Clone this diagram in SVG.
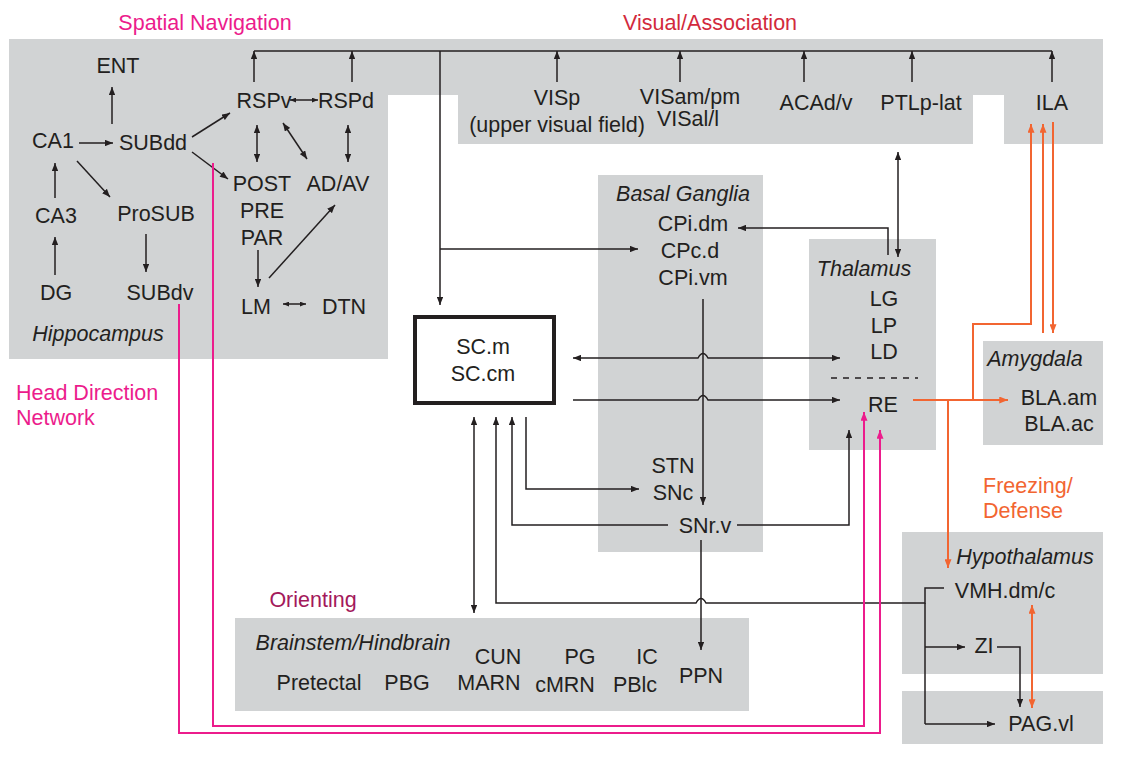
<svg xmlns="http://www.w3.org/2000/svg" width="1124" height="760" viewBox="0 0 1124 760">
<defs>
<style>
.t{font-family:"Liberation Sans",Arial,Helvetica,sans-serif;font-size:21.5px;fill:#231f20;text-anchor:middle}
.i{font-style:italic}
.s{text-anchor:start}
.g{fill:#d1d3d4}
.k{fill:none;stroke:#231f20;stroke-width:1.5}
.p{fill:none;stroke:#ec1c8c;stroke-width:2}
.o{fill:none;stroke:#f26531;stroke-width:2}
.km{marker-end:url(#ak)}
.kb{marker-start:url(#ak);marker-end:url(#ak)}
.ks{marker-start:url(#aks);marker-end:url(#aks)}
.pm{marker-end:url(#ap)}
.om{marker-end:url(#ao)}
.ob{marker-start:url(#ao);marker-end:url(#ao)}
.mag{fill:#ec1c8c}
.red{fill:#d22a3c}
.ori{fill:#a3195b}
.org{fill:#f26531}
</style>
<marker id="ak" viewBox="0 0 10 8" refX="10" refY="4" markerWidth="8.5" markerHeight="6.5" markerUnits="userSpaceOnUse" orient="auto-start-reverse"><path d="M0,0 L10,4 L0,8 z" fill="#231f20"/></marker>
<marker id="aks" viewBox="0 0 10 8" refX="10" refY="4" markerWidth="6" markerHeight="5" markerUnits="userSpaceOnUse" orient="auto-start-reverse"><path d="M0,0 L10,4 L0,8 z" fill="#231f20"/></marker>
<marker id="ap" viewBox="0 0 10 8" refX="10" refY="4" markerWidth="9" markerHeight="7" markerUnits="userSpaceOnUse" orient="auto-start-reverse"><path d="M0,0 L10,4 L0,8 z" fill="#ec1c8c"/></marker>
<marker id="ao" viewBox="0 0 10 8" refX="10" refY="4" markerWidth="9" markerHeight="7" markerUnits="userSpaceOnUse" orient="auto-start-reverse"><path d="M0,0 L10,4 L0,8 z" fill="#f26531"/></marker>
</defs>
<rect width="1124" height="760" fill="#ffffff"/>

<g id="regions">
<path class="g" d="M9,39 H1103 V144 H1004 V95 H973 V144 H458 V95 H388 V359 H9 Z"/>
<rect class="g" x="598" y="175" width="165" height="377"/>
<rect class="g" x="809" y="239" width="127" height="211"/>
<rect class="g" x="983" y="341" width="120" height="104"/>
<rect class="g" x="902" y="532" width="201" height="142"/>
<rect class="g" x="902" y="691" width="201" height="53"/>
<rect class="g" x="235" y="618" width="514" height="93"/>
</g>

<g id="section-labels">
<text class="t mag" x="205" y="29.7">Spatial Navigation</text>
<text class="t red" x="710" y="29.7">Visual/Association</text>
<text class="t mag s" x="16" y="399.7">Head Direction</text>
<text class="t mag s" x="16" y="424.7">Network</text>
<text class="t ori" x="313" y="606.7">Orienting</text>
<text class="t org s" x="983" y="492.7">Freezing/</text>
<text class="t org s" x="983" y="517.7">Defense</text>
</g>

<g id="connectors">
<!-- hippocampus -->
<line class="k km" x1="79" y1="143" x2="113" y2="143"/>
<line class="k km" x1="112" y1="124" x2="112" y2="87"/>
<line class="k km" x1="77" y1="161" x2="110" y2="197"/>
<line class="k km" x1="55" y1="198" x2="55" y2="163"/>
<line class="k km" x1="55" y1="275" x2="55" y2="237"/>
<line class="k km" x1="146" y1="234" x2="146" y2="272"/>
<line class="k km" x1="192" y1="137" x2="230" y2="113"/>
<line class="k km" x1="192" y1="152" x2="228" y2="179"/>
<line class="k ks" x1="290" y1="100" x2="318" y2="100"/>
<line class="k kb" x1="257" y1="125" x2="257" y2="162"/>
<line class="k kb" x1="283" y1="123" x2="307" y2="159"/>
<line class="k kb" x1="348" y1="125" x2="348" y2="162"/>
<line class="k km" x1="258" y1="250" x2="258" y2="287"/>
<line class="k km" x1="269" y1="278" x2="335" y2="205"/>
<line class="k ks" x1="283" y1="304" x2="306" y2="304"/>
<!-- top bus -->
<line class="k" x1="254" y1="51" x2="1052" y2="51"/>
<line class="k km" x1="254" y1="82" x2="254" y2="51"/>
<line class="k km" x1="352" y1="82" x2="352" y2="51"/>
<line class="k km" x1="557" y1="82" x2="557" y2="51"/>
<line class="k km" x1="680" y1="82" x2="680" y2="51"/>
<line class="k km" x1="804" y1="82" x2="804" y2="51"/>
<line class="k km" x1="912" y1="82" x2="912" y2="51"/>
<line class="k km" x1="1052" y1="82" x2="1052" y2="51"/>
<line class="k km" x1="440" y1="51" x2="440" y2="305"/>
<line class="k km" x1="440" y1="249" x2="638" y2="249"/>
<!-- thalamus / basal ganglia -->
<path class="k km" d="M888,255 V228 H738"/>
<line class="k kb" x1="898" y1="152" x2="898" y2="257"/>
<line class="k km" x1="703" y1="299" x2="703" y2="505"/>
<path class="k kb" d="M573,358 H698 Q703,349 708,358 H840"/>
<path class="k km" d="M573,400 H698 Q703,391 708,400 H840"/>
<!-- SC lower connections -->
<line class="k kb" x1="474" y1="417" x2="474" y2="613"/>
<path class="k km" d="M944,588 H925 V603 H706 Q701,594 696,603 H496 V417"/>
<line class="k" x1="925" y1="603" x2="925" y2="724"/>
<line class="k km" x1="925" y1="647" x2="965" y2="647"/>
<line class="k km" x1="925" y1="724" x2="995" y2="724"/>
<path class="k km" d="M997,647 H1020 V707"/>
<path class="k km" d="M668,525 H512 V417"/>
<path class="k km" d="M526,417 V489 H639"/>
<path class="k km" d="M737,525 H849 V430"/>
<line class="k km" x1="701" y1="540" x2="701" y2="650"/>
<!-- head direction (pink) -->
<path class="p pm" d="M179,304 V733 H880 V430"/>
<path class="p pm" d="M213,163 V726 H864 V412"/>
<!-- freezing / defense (orange) -->
<line class="o om" x1="913" y1="400" x2="1008" y2="400"/>
<path class="o om" d="M973,400 V324 H1031 V124"/>
<line class="o om" x1="948" y1="400" x2="948" y2="568"/>
<line class="o om" x1="1043" y1="333" x2="1043" y2="124"/>
<line class="o om" x1="1053" y1="122" x2="1053" y2="333"/>
<line class="o ob" x1="1032" y1="605" x2="1032" y2="708"/>
</g>

<g id="hippocampus">
<text class="t" x="118" y="72.7">ENT</text>
<text class="t" x="53" y="147.7">CA1</text>
<text class="t" x="153" y="149.7">SUBdd</text>
<text class="t" x="56" y="222.7">CA3</text>
<text class="t" x="156" y="220.7">ProSUB</text>
<text class="t" x="56" y="299.7">DG</text>
<text class="t" x="160" y="299.7">SUBdv</text>
<text class="t i" x="98" y="340.7">Hippocampus</text>
</g>

<g id="retrosplenial">
<text class="t" x="264" y="107.7">RSPv</text>
<text class="t" x="346" y="107.7">RSPd</text>
<text class="t" x="262" y="190.7">POST</text>
<text class="t" x="262" y="217.7">PRE</text>
<text class="t" x="262" y="244.7">PAR</text>
<text class="t" x="338" y="190.7">AD/AV</text>
<text class="t" x="256" y="313.7">LM</text>
<text class="t" x="344" y="313.7">DTN</text>
</g>

<g id="visual">
<text class="t" x="557" y="104.7">VISp</text>
<text class="t" x="557" y="131.7">(upper visual field)</text>
<text class="t" x="690" y="103.7">VISam/pm</text>
<text class="t" x="688" y="125.7">VISal/l</text>
<text class="t" x="816" y="109.7">ACAd/v</text>
<text class="t" x="921" y="109.7">PTLp-lat</text>
<text class="t" x="1052" y="109.7">ILA</text>
</g>

<g id="superior-colliculus">
<rect x="415" y="317" width="139" height="86" fill="#ffffff" stroke="#231f20" stroke-width="4"/>
<text class="t" x="483" y="353.7">SC.m</text>
<text class="t" x="483" y="380.7">SC.cm</text>
</g>

<g id="basal-ganglia">
<text class="t i" x="683" y="200.7">Basal Ganglia</text>
<text class="t" x="693" y="230.7">CPi.dm</text>
<text class="t" x="690" y="257.7">CPc.d</text>
<text class="t" x="693" y="284.7">CPi.vm</text>
<text class="t" x="673" y="472.7">STN</text>
<text class="t" x="673" y="499.7">SNc</text>
<text class="t" x="705" y="532.7">SNr.v</text>
</g>

<g id="thalamus">
<text class="t i" x="864" y="275.7">Thalamus</text>
<text class="t" x="884" y="305.7">LG</text>
<text class="t" x="884" y="332.7">LP</text>
<text class="t" x="884" y="358.7">LD</text>
<line x1="831" y1="378" x2="918" y2="378" stroke="#231f20" stroke-width="1.5" stroke-dasharray="6,6"/>
<text class="t" x="883" y="411.7">RE</text>
</g>

<g id="amygdala">
<text class="t i" x="1035" y="365.7">Amygdala</text>
<text class="t" x="1059" y="404.7">BLA.am</text>
<text class="t" x="1059" y="430.7">BLA.ac</text>
</g>

<g id="hypothalamus">
<text class="t i" x="1025" y="563.7">Hypothalamus</text>
<text class="t" x="1005" y="597.7">VMH.dm/c</text>
<text class="t" x="984" y="652.7">ZI</text>
<text class="t" x="1041" y="730.7">PAG.vl</text>
</g>

<g id="brainstem">
<text class="t i" x="353" y="649.7">Brainstem/Hindbrain</text>
<text class="t" x="498" y="663.7">CUN</text>
<text class="t" x="580" y="663.7">PG</text>
<text class="t" x="647" y="663.7">IC</text>
<text class="t" x="319" y="689.7">Pretectal</text>
<text class="t" x="407" y="689.7">PBG</text>
<text class="t" x="489" y="689.7">MARN</text>
<text class="t" x="565" y="691.7">cMRN</text>
<text class="t" x="635" y="691.7">PBlc</text>
<text class="t" x="701" y="682.7">PPN</text>
</g>
</svg>
